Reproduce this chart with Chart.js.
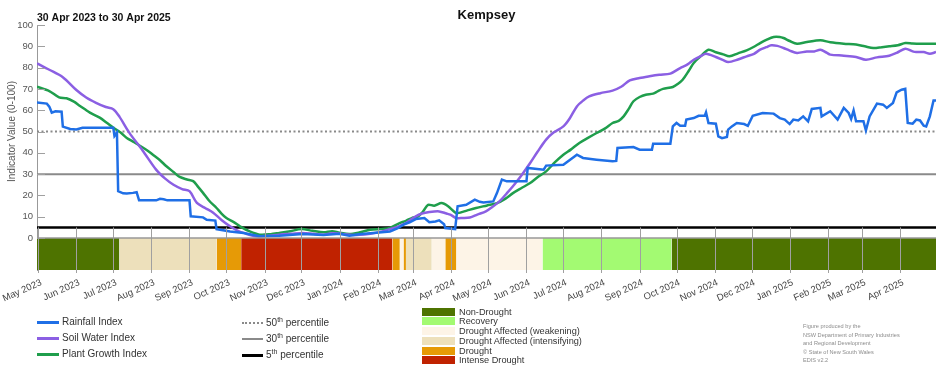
<!DOCTYPE html>
<html>
<head>
<meta charset="utf-8">
<script src="https://cdn.jsdelivr.net/npm/chart.js@4.4.1/dist/chart.umd.min.js"></script>
<style>
body { margin: 0; background: #fff; font-family: "Liberation Sans", Arial, sans-serif; }
#wrap { position: relative; width: 952px; height: 370px; overflow: hidden; }
#chart { position: absolute; left: 0; top: 0; }
.txt { position: absolute; white-space: nowrap; color: #333; }
.swatch { position: absolute; }
sup { font-size: 7px; vertical-align: 4px; line-height: 0; }
</style>
</head>
<body>
<div id="wrap">
  <canvas id="chart" width="952" height="370"></canvas>
</div>
<script>
// x values are days since 30 Apr 2023
const startDate = new Date(2023, 3, 30);
const endDate = new Date(2025, 3, 30);
const titleText = 'Kempsey';
const periodText = '30 Apr 2023 to 30 Apr 2025';
const yTitle = 'Indicator Value (0-100)';

const tickLabels = ['May 2023', 'Jun 2023', 'Jul 2023', 'Aug 2023', 'Sep 2023', 'Oct 2023', 'Nov 2023', 'Dec 2023',
  'Jan 2024', 'Feb 2024', 'Mar 2024', 'Apr 2024', 'May 2024', 'Jun 2024', 'Jul 2024', 'Aug 2024', 'Sep 2024',
  'Oct 2024', 'Nov 2024', 'Dec 2024', 'Jan 2025', 'Feb 2025', 'Mar 2025', 'Apr 2025'];
const yTicks = [0, 10, 20, 30, 40, 50, 60, 70, 80, 90, 100];

const rainfallIndex = [[0,63.6],[8,63.1],[10,61.7],[12,58.9],[15,59.5],[20,59.3],[21,52.3],[27,51.2],[32,51],[37,51.8],
  [50,51.8],[62,51.8],[63,47.9],[65,49.5],[66,22],[70,21],[73,20.9],[78,21.2],[81,21.5],[83,17.7],[97,17.7],[100,18.4],
  [103,18.2],[106,17.7],[124,17.7],[125,10.2],[135,9.7],[138,8.6],[145,8.2],[146,4.2],[157,3.1],[168,2.4],[181,0.8],
  [197,1.1],[216,1.9],[233,1.4],[246,2],[254,1.1],[262,1.8],[271,2.3],[287,3.1],[293,4.5],[298,6.3],[303,7.4],[308,8.9],
  [315,9.4],[319,7.4],[324,7.8],[327,8.3],[331,6.5],[332,4.7],[340,4.2],[342,14.9],[349,15.6],[356,18],[360,17],
  [363,16.7],[371,17.2],[374,21.1],[378,27.4],[382,26.6],[398,26.6],[399,32.9],[412,32.1],[414,34],[428,34.4],
  [439,39.1],[444,37.6],[455,36.8],[468,36],[471,36.2],[472,42.3],[485,42.7],[490,41.5],[500,41.5],[501,44.3],
  [515,44.3],[517,52.4],[520,54],[523,52.7],[527,52.7],[528,55.6],[534,56.3],[538,57.4],[543,57.4],[544,59],[546,54],
  [552,53.7],[554,47.7],[557,46.9],[561,47.4],[562,50.9],[565,52.4],[569,54],[575,53.5],[578,52.7],[582,57.4],
  [590,58.7],[599,58.4],[604,56.3],[608,55.6],[612,53.5],[615,55.6],[619,55.2],[623,57.1],[627,54.8],[630,60.6],
  [637,61.1],[638,57.1],[645,59.5],[651,55.6],[656,61.1],[660,58.7],[662,55.9],[664,59.9],[666,54.8],[672,54.8],
  [674,50.5],[677,57.1],[683,63.1],[688,62.6],[691,61.1],[696,63.4],[699,68.4],[703,69.6],[706,70],[708,54],
  [712,53.7],[715,55.6],[718,55.2],[721,52.7],[723,52.4],[726,57.1],[729,64.6],[731,64.6]];

const soilWaterIndex = [[0,82],[10,79],[21,75.5],[32,69.5],[40,66],[48,63.5],[56,61.5],[62,60.5],[67,57],[75,49.5],
  [86,41],[97,32],[104,28],[111,25],[118,23],[124,22],[130,16.5],[137,14],[143,12],[150,8.5],[157,5.5],[163,3.5],
  [168,2.4],[178,0.8],[187,1],[197,1.6],[207,2],[216,2.4],[225,2],[233,1.6],[240,2.3],[247,2],[254,1.6],[262,1.5],
  [271,2],[280,3],[287,4.2],[294,5.5],[300,7],[308,10.2],[313,11.5],[319,12.2],[327,12.5],[333,11.5],[336,11],
  [341,9.4],[346,9.4],[352,9.6],[358,11],[365,12.5],[370,14.5],[376,17.2],[382,21],[387,24.3],[394,29.5],[401,35.2],
  [407,40.5],[414,46.2],[420,49.5],[428,52.4],[433,56],[439,61.8],[444,64.5],[449,66.5],[458,68],[468,69.2],[475,71],
  [482,74],[490,75.1],[498,75.9],[506,76.6],[515,77.2],[523,79.8],[529,81.5],[534,83.7],[540,85.5],[544,86.5],
  [552,85],[558,83.5],[562,82.6],[570,83.8],[577,85.3],[583,86.5],[588,88.4],[593,89.6],[597,90.5],[602,90.2],
  [607,89.2],[612,88],[618,86.9],[626,87.6],[632,87.6],[637,88.4],[642,87],[645,86.1],[656,85.6],[666,85],[674,83.7],
  [683,84.8],[693,85.6],[699,86.9],[706,88.9],[712,87.6],[715,87.3],[721,87.3],[726,86.5],[731,87.3]];

const plantGrowthIndex = [[0,71],[10,69],[18,66],[24,65.6],[30,64],[35,62],[43,58.9],[51,56.5],[57,54],[62,51.8],
  [68,49.5],[73,47],[79,45],[84,43.2],[90,41],[94,39.2],[100,36.5],[105,33.8],[111,31],[116,28.7],[122,27.5],
  [127,26.7],[131,24],[135,21.2],[140,17.5],[146,14.1],[150,11.5],[154,9.4],[160,7.5],[165,5.5],[173,3.1],[181,1.6],
  [190,1.8],[197,2.4],[206,3.2],[215,4.2],[224,3.4],[233,2.7],[240,3.2],[246,2.5],[254,1.9],[262,2.6],[271,3.9],
  [280,4.3],[287,4.7],[294,6.8],[300,8.1],[305,9.5],[310,10.2],[314,12.5],[318,15.6],[323,15.2],[329,16.4],[334,15],
  [340,12],[342,11.7],[350,13],[357,14.1],[366,15.3],[374,16.4],[381,18.5],[387,21.1],[394,23.5],[401,25.8],
  [407,28.5],[414,31.3],[421,35.5],[428,39.1],[434,41.5],[441,44.6],[448,47],[455,49.3],[462,51.5],[468,54],[473,55],
  [477,57.1],[481,60.5],[485,64.2],[490,66.2],[495,67.3],[501,67.8],[505,69],[509,70],[517,70.9],[521,72.3],
  [525,74.3],[530,78.5],[534,82.2],[540,85.5],[546,88.4],[552,87.2],[558,86.2],[563,85.3],[570,86.7],[577,88.1],
  [583,89.8],[588,91.5],[593,93],[599,94.4],[604,94.4],[607,93.9],[612,92.5],[618,91.2],[626,92],[637,92.8],
  [645,91.9],[656,91.2],[666,90.8],[673,90],[680,89.2],[687,89.6],[693,90],[700,90.5],[706,91.5],[712,91.3],
  [718,91.2],[731,91.2]];

const seriesNames = ['Rainfall Index', 'Soil Water Index', 'Plant Growth Index'];
const seriesColours = ['#1f6fe6', '#8b5fe3', '#1f9e4c'];

const percentiles = [50, 30, 5];
const percentileColours = ['#8a8a8a', '#8a8a8a', '#000000'];

// drought category band: start day, end day, category index
const bandStart = [0, 67, 146, 166, 289, 295, 298, 300, 321, 332, 341, 411, 516];
const bandEnd = [67, 146, 166, 289, 295, 298, 300, 321, 332, 341, 411, 516, 731];
const bandCategory = [0, 3, 4, 5, 4, 2, 4, 3, 2, 4, 2, 1, 0];
const categoryNames = ['Non-Drought', 'Recovery', 'Drought Affected (weakening)', 'Drought Affected (intensifying)', 'Drought', 'Intense Drought'];
const categoryColours = ['#4e7300', '#a3fa72', '#fdf4e7', '#ede0bb', '#e69a06', '#c02200'];

const credits = ['Figure produced by the', 'NSW Department of Primary Industries', 'and Regional Development', '\u00a9 State of New South Wales', 'EDIS v2.2'];

const dayMs = 86400000;
const totalDays = Math.round((endDate - startDate) / dayMs);
const monthDays = tickLabels.map((_, i) => Math.round((new Date(2023, 4 + i, 1) - startDate) / dayMs));
const bandBottom = -15;

const toXY = arr => arr.map(p => ({ x: p[0], y: p[1] }));

let datasets = [];
[rainfallIndex, soilWaterIndex, plantGrowthIndex].forEach((s, i) => {
  datasets.push({
    label: seriesNames[i], data: toXY(s), borderColor: seriesColours[i], borderWidth: 2.5,
    pointRadius: 0, tension: i === 0 ? 0 : 0.3, fill: false
  });
});
percentiles.forEach((p, i) => {
  datasets.push({
    label: p + 'th percentile', data: [{ x: 0, y: p }, { x: totalDays, y: p }],
    borderColor: percentileColours[i], borderWidth: i === 2 ? 2.5 : 2,
    borderDash: i === 0 ? [2, 2.5] : [], pointRadius: 0, fill: false
  });
});
bandStart.forEach((s, i) => {
  datasets.push({
    label: categoryNames[bandCategory[i]], data: [{ x: s, y: bandBottom }, { x: bandEnd[i], y: bandBottom }],
    borderWidth: 0, borderColor: 'rgba(0,0,0,0)', backgroundColor: categoryColours[bandCategory[i]],
    pointRadius: 0, fill: { value: 0 }
  });
});

const decor = {
  id: 'decor',
  afterDatasetsDraw(chart) {
    const { ctx, chartArea: a, scales: { x, y } } = chart;
    ctx.save();
    ctx.strokeStyle = '#a0a0a0';
    ctx.lineWidth = 1;
    // y tick marks pointing into the plot
    y.ticks.forEach(t => {
      const py = Math.round(y.getPixelForValue(t.value)) + 0.5;
      ctx.beginPath(); ctx.moveTo(a.left, py); ctx.lineTo(a.left + 8, py); ctx.stroke();
    });
    // month lines through the band
    const top = y.getPixelForValue(5);
    x.ticks.forEach(t => {
      const px = Math.round(x.getPixelForValue(t.value)) + 0.5;
      ctx.beginPath(); ctx.moveTo(px, top); ctx.lineTo(px, a.bottom + 3); ctx.stroke();
    });
    // line on top of the band
    ctx.strokeStyle = '#999';
    ctx.lineWidth = 1.5;
    const zy = y.getPixelForValue(0);
    ctx.beginPath(); ctx.moveTo(a.left, zy); ctx.lineTo(a.right, zy); ctx.stroke();
    ctx.restore();
  },
  afterDraw(chart) {
    const { ctx, chartArea: a, scales: { y } } = chart;
    ctx.save();
    ctx.fillStyle = '#111';
    ctx.textBaseline = 'middle';
    ctx.font = 'bold 13px "Liberation Sans", Arial, sans-serif';
    ctx.textAlign = 'center';
    ctx.fillText(titleText, (a.left + a.right) / 2, 15);
    ctx.font = 'bold 10.5px "Liberation Sans", Arial, sans-serif';
    ctx.textAlign = 'left';
    ctx.fillText(periodText, a.left, 18);
    ctx.fillStyle = '#555';
    ctx.font = '10px "Liberation Sans", Arial, sans-serif';
    ctx.textAlign = 'center';
    ctx.translate(12, (y.getPixelForValue(0) + y.getPixelForValue(100)) / 2);
    ctx.rotate(-Math.PI / 2);
    ctx.fillText(yTitle, 0, 0);
    ctx.restore();
  }
};

new Chart(document.getElementById('chart'), {
  type: 'line',
  data: { datasets: datasets },
  plugins: [decor],
  options: {
    responsive: false,
    animation: false,
    devicePixelRatio: 1,
    layout: { padding: { left: 0, right: 16, top: 25, bottom: 0 } },
    plugins: { legend: { display: false }, tooltip: { enabled: false } },
    scales: {
      x: {
        type: 'linear', min: 0, max: totalDays,
        afterBuildTicks: s => { s.ticks = monthDays.map(v => ({ value: v })); },
        afterFit: s => { s.height = 100; s.paddingLeft = 0; s.paddingRight = 0; },
        ticks: {
          autoSkip: false, minRotation: 24, maxRotation: 24, padding: 7, labelOffset: 3, color: '#444',
          font: { size: 9.5, family: '"Liberation Sans", Arial, sans-serif' },
          callback: (v, i) => tickLabels[i]
        },
        grid: { display: false, drawTicks: false },
        border: { display: false }
      },
      y: {
        min: bandBottom, max: 100,
        afterBuildTicks: s => { s.ticks = yTicks.map(v => ({ value: v })); },
        afterFit: s => { s.width = 37; s.paddingTop = 0; s.paddingBottom = 0; },
        ticks: { padding: 4, color: '#555', font: { size: 9.5, family: '"Liberation Sans", Arial, sans-serif' } },
        grid: { display: false, drawTicks: false },
        border: { color: '#999' }
      }
    }
  }
});

// legend below the chart
const wrap = document.getElementById('wrap');
function addEl(cls, style, html) {
  const el = document.createElement('div');
  el.className = cls;
  Object.assign(el.style, style);
  if (html) el.innerHTML = html;
  wrap.appendChild(el);
}
const seriesRows = [322, 338, 354];
seriesNames.forEach((n, i) => {
  addEl('swatch', { left: '37px', top: (seriesRows[i] - 1) + 'px', width: '22px', height: '2.5px', background: seriesColours[i] });
  addEl('txt', { left: '62px', top: (seriesRows[i] - 7) + 'px', fontSize: '10px', lineHeight: '14px' }, n);
});
const pctRows = [322.5, 339, 355];
percentiles.forEach((p, i) => {
  const st = { left: '242px', width: '21px', top: (pctRows[i] - 1) + 'px' };
  if (i === 0) { st.height = '0px'; st.borderTop = '2px dotted ' + percentileColours[i]; }
  else { st.height = (i === 2 ? 2.5 : 2) + 'px'; st.background = percentileColours[i]; }
  addEl('swatch', st);
  addEl('txt', { left: '266px', top: (pctRows[i] - 7) + 'px', fontSize: '10px', lineHeight: '14px' }, p + '<sup>th</sup> percentile');
});
categoryNames.forEach((n, i) => {
  const cy = 311.7 + i * 9.74;
  addEl('swatch', { left: '422px', top: (cy - 4) + 'px', width: '33px', height: '8px', background: categoryColours[i] });
  addEl('txt', { left: '459px', top: (cy - 6) + 'px', fontSize: '9.2px', lineHeight: '12px' }, n);
});
credits.forEach((c, i) => {
  addEl('txt', { left: '803px', top: (326 + i * 8.5 - 4) + 'px', fontSize: '5.6px', lineHeight: '8px', color: '#8c8c8c' }, c);
});
</script>
</body>
</html>
